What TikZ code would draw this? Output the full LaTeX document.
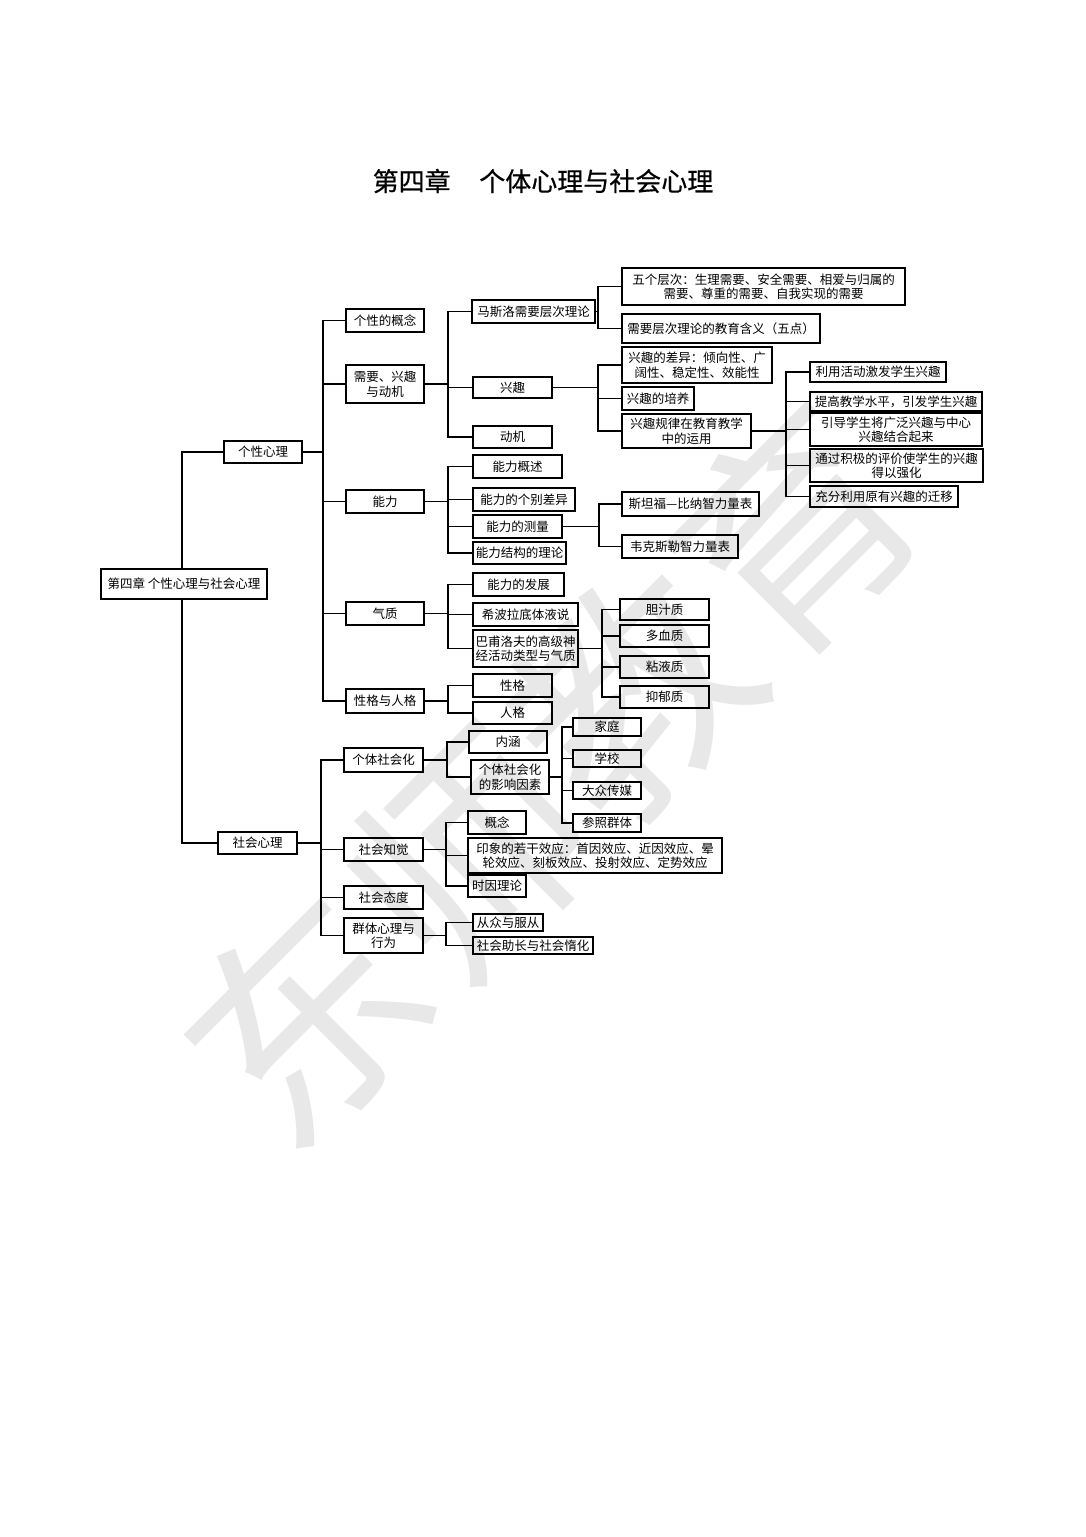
\documentclass[tikz,border=0pt]{standalone}
\usepackage{fontspec}
\setmainfont{Noto Sans CJK SC}
\newfontfamily\titlefont[AutoFakeBold=0.6]{Noto Sans CJK SC}
\usetikzlibrary{calc}
\tikzset{
  bx/.style={draw, line width=1.1pt, inner sep=1pt, align=center,
    font=\fontsize{12.5}{14.5}\selectfont},
  ln/.style={line width=1.1pt},
}
% \bxn{name}{x1}{y1}{x2}{y2}{text}
\newcommand{\bxn}[6]{%
  \node[bx, minimum width={#4-#2}, minimum height={#5-#3}] (#1) at ({(#2+#4)/2},{(#3+#5)/2}) {#6};}
% \tree{parent}{busx}{children list}
\newcommand{\tree}[3]{%
  \coordinate (bus#1) at (#2,0);
  \draw[ln] (#1.east) -- (#1.east -| bus#1);
  \foreach \c in {#3} {\draw[ln] (#1.east -| bus#1) |- (\c.west);}
}
\begin{document}
\begin{tikzpicture}[x=1pt,y=-1pt]
\useasboundingbox (0,0) rectangle (1085,1537);
% watermark
\node[text=black!9, rotate=45, font=\fontsize{230}{235}\selectfont] (wm) at (550,775) {东师教育};
% title
\node[font=\titlefont\bfseries\fontsize{26}{30}\selectfont] (title) at (543,181) {第四章\hspace{1.1em}个体心理与社会心理};

\bxn{root}{101}{569}{267}{599}{第四章 个性心理与社会心理}
\bxn{gx}{224}{441}{302}{463}{个性心理}
\bxn{sh}{218}{832}{297}{854}{社会心理}

\bxn{a1}{346}{309}{424}{332}{个性的概念}
\bxn{a2}{346}{365}{424}{403}{需要、兴趣\\与动机}
\bxn{a3}{346}{490}{424}{513}{能力}
\bxn{a4}{346}{602}{424}{625}{气质}
\bxn{a5}{346}{689}{424}{713}{性格与人格}

\bxn{s1}{344}{748}{423}{772}{个体社会化}
\bxn{s2}{344}{838}{423}{861}{社会知觉}
\bxn{s3}{344}{886}{423}{909}{社会态度}
\bxn{s4}{344}{918}{423}{953}{群体心理与\\行为}

\bxn{b1}{472}{300}{595}{323}{马斯洛需要层次理论}
\bxn{b2}{473}{377}{552}{398}{兴趣}
\bxn{b3}{473}{426}{552}{448}{动机}

\bxn{c1}{622}{268}{905}{305}{五个层次：生理需要、安全需要、相爱与归属的\\需要、尊重的需要、自我实现的需要}
\bxn{c2}{622}{314}{820}{343}{需要层次理论的教育含义（五点）}
\bxn{c3}{622}{347}{772}{383}{兴趣的差异：倾向性、广\\阔性、稳定性、效能性}
\bxn{c4}{622}{387}{694}{410}{兴趣的培养}
\bxn{c5}{622}{414}{751}{448}{兴趣规律在教育教学\\中的运用}

\bxn{d1}{810}{362}{946}{382}{利用活动激发学生兴趣}
\bxn{d2}{810}{392}{982}{411}{提高教学水平，引发学生兴趣}
\bxn{d3}{810}{413}{982}{446}{引导学生将广泛兴趣与中心\\兴趣结合起来}
\bxn{d4}{810}{449}{983}{482}{通过积极的评价使学生的兴趣\\得以强化}
\bxn{d5}{810}{486}{958}{507}{充分利用原有兴趣的迁移}

\bxn{e1}{473}{455}{562}{478}{能力概述}
\bxn{e2}{473}{488}{575}{511}{能力的个别差异}
\bxn{e3}{473}{515}{562}{538}{能力的测量}
\bxn{e4}{473}{542}{566}{564}{能力结构的理论}

\bxn{f1}{622}{492}{759}{516}{斯坦福—比纳智力量表}
\bxn{f2}{622}{535}{738}{558}{韦克斯勒智力量表}

\bxn{g1}{473}{573}{564}{596}{能力的发展}
\bxn{g2}{473}{603}{578}{626}{希波拉底体液说}
\bxn{g3}{473}{630}{578}{667}{巴甫洛夫的高级神\\经活动类型与气质}

\bxn{h1}{620}{599}{709}{620}{胆汁质}
\bxn{h2}{620}{625}{709}{647}{多血质}
\bxn{h3}{620}{656}{709}{678}{粘液质}
\bxn{h4}{620}{686}{709}{708}{抑郁质}

\bxn{i1}{473}{674}{552}{697}{性格}
\bxn{i2}{473}{702}{552}{724}{人格}

\bxn{j1}{469}{731}{547}{753}{内涵}
\bxn{j2}{471}{760}{549}{794}{个体社会化\\的影响因素}

\bxn{k1}{573}{718}{641}{736}{家庭}
\bxn{k2}{573}{750}{641}{767}{学校}
\bxn{k3}{573}{782}{641}{799}{大众传媒}
\bxn{k4}{573}{814}{641}{832}{参照群体}

\bxn{l1}{468}{811}{526}{834}{概念}
\bxn{l2}{468}{838}{722}{873}{印象的若干效应：首因效应、近因效应、晕\\轮效应、刻板效应、投射效应、定势效应}
\bxn{l3}{468}{875}{526}{897}{时因理论}

\bxn{m1}{473}{914}{543}{931}{从众与服从}
\bxn{m2}{473}{937}{593}{954}{社会助长与社会惰化}

% connectors
\draw[ln] (root.north -| 182,0) |- (gx.west);
\draw[ln] (root.south -| 182,0) |- (sh.west);
\tree{gx}{323}{a1,a2,a3,a4,a5}
\tree{sh}{321}{s1,s2,s3,s4}
\tree{a2}{448}{b1,b2,b3}
\tree{b1}{598}{c1,c2}
\tree{b2}{598}{c3,c4,c5}
\tree{c5}{786}{d1,d2,d3,d4,d5}
\tree{a3}{448}{e1,e2,e3,e4}
\tree{e3}{599}{f1,f2}
\tree{a4}{448}{g1,g2,g3}
\tree{g3}{602}{h1,h2,h3,h4}
\tree{a5}{448}{i1,i2}
\tree{s1}{447}{j1,j2}
\tree{j2}{562}{k1,k2,k3,k4}
\tree{s2}{446}{l1,l2,l3}
\tree{s4}{446}{m1,m2}
\end{tikzpicture}
\end{document}
